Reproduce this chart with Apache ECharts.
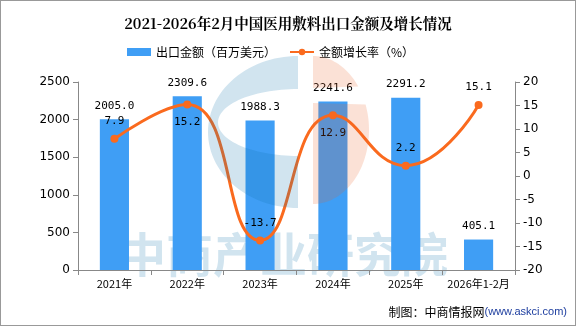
<!DOCTYPE html>
<html><head><meta charset="utf-8">
<script src="https://cdn.jsdelivr.net/npm/echarts@6/dist/echarts.min.js"></script>
<style>html,body{margin:0;padding:0;background:#fff}#c{width:576px;height:326px;box-sizing:border-box;border:1px solid #999}</style>
</head><body><div id="c"></div>
<script>
const categories = ['2021年','2022年','2023年','2024年','2025年','2026年1-2月'];
const exportValues = [2005.0, 2309.6, 1988.3, 2241.6, 2291.2, 405.1];
const growthRates = [7.9, 15.2, -13.7, 12.9, 2.2, 15.1];
const leftTicks = [0, 2500, 500];
const rightTicks = [-20, 20, 5];
const growthLabelBelow = [false, true, false, true, false, false];

// watermark logo outline (decoration only)
function ellipseArc(cx, cy, rx, ry, a0, a1, n) {
  const pts = [];
  for (let i = 0; i <= n; i++) {
    const a = (a0 + (a1 - a0) * i / n) * Math.PI / 180;
    pts.push([cx + rx * Math.cos(a), cy + ry * Math.sin(a)]);
  }
  return pts;
}
function clipY(pts, y0, y1) { return pts.filter(p => p[1] >= y0 && p[1] <= y1); }
const logoG = ellipseArc(297, 131, 90, 76, 270, 90, 60).concat(ellipseArc(297, 121.5, 80, 33.5, 90, 270, 60));
const orangeArc = ellipseArc(312, 129, 56, 74, -90, 90, 80);
const logoO1 = [[312, 87]].concat(clipY(orangeArc, 0, 87));
const logoO2 = [[312, 102]].concat(clipY(orangeArc, 102, 400));

const chart = echarts.init(document.getElementById('c'));
const font = '"Noto Sans CJK SC", sans-serif';
const numFont = '"DejaVu Sans Mono", monospace';
const logoBlue = 'rgba(12,111,170,0.19)';
const logoOrange = 'rgba(234,94,37,0.19)';
chart.setOption({
  animation: false,
  title: {
    text: '2021-2026年2月中国医用敷料出口金额及增长情况',
    left: 'center', top: 10,
    textStyle: {fontSize: 14.5, fontWeight: 'bold', color: '#000', fontFamily: '"Noto Serif CJK SC","Noto Sans CJK SC", serif'}
  },
  legend: {
    top: 40, left: 121, itemGap: 13, itemWidth: 24, itemHeight: 8,
    textStyle: {fontSize: 12, color: '#000', fontFamily: font},
    data: [{name: '出口金额（百万美元）', icon: 'rect'}, {name: '金额增长率（%）'}]
  },
  graphic: [
    {type: 'text', x: 118, y: 230, z: -10, silent: true,
     style: {text: '中商产业研究院', fontSize: 47, fontWeight: 'bold', fill: 'rgba(190,216,232,0.7)', fontFamily: font}},
    {type: 'polygon', z: 100, silent: true, shape: {points: logoG}, style: {fill: logoBlue}},
    {type: 'polygon', z: 100, silent: true, shape: {points: logoO1}, style: {fill: logoOrange}},
    {type: 'polygon', z: 100, silent: true, shape: {points: logoO2}, style: {fill: logoOrange}},
    {type: 'text', right: 8, bottom: 7, z: 10,
     style: {rich: {a: {fontSize: 12, fill: '#000', fontFamily: font}, b: {fontSize: 11, fill: '#2040a0', fontFamily: 'Arial, sans-serif'}},
             text: '{a|制图：中商情报网}{b|(www.askci.com)}'}}
  ],
  grid: {left: 77, right: 60, top: 81, bottom: 55},
  xAxis: {
    type: 'category', data: categories,
    axisLine: {lineStyle: {color: '#888'}},
    axisTick: {show: true, lineStyle: {color: '#888'}},
    axisLabel: {color: '#000', fontSize: 11, fontFamily: font, margin: 8, interval: 0}
  },
  yAxis: [
    {type: 'value', min: leftTicks[0], max: leftTicks[1], interval: leftTicks[2],
     axisLine: {show: true, lineStyle: {color: '#888'}}, axisTick: {show: true, lineStyle: {color: '#888'}},
     splitLine: {show: false}, axisLabel: {color: '#000', fontSize: 12, fontFamily: 'DejaVu Sans, sans-serif', formatter: v => String(v)}},
    {type: 'value', min: rightTicks[0], max: rightTicks[1], interval: rightTicks[2],
     axisLine: {show: true, lineStyle: {color: '#888'}}, axisTick: {show: true, lineStyle: {color: '#888'}},
     splitLine: {show: false}, axisLabel: {color: '#000', fontSize: 12, fontFamily: 'DejaVu Sans, sans-serif', formatter: v => String(v)}}
  ],
  series: [
    {name: '出口金额（百万美元）', type: 'bar', data: exportValues, barWidth: '40%',
     itemStyle: {color: '#3f9ef5'},
     label: {show: true, position: 'top', color: '#000', fontSize: 11, distance: 8,
             fontFamily: numFont, formatter: p => p.value.toFixed(1)}},
    {name: '金额增长率（%）', type: 'line', yAxisIndex: 1, smooth: true,
     data: growthRates.map((v, i) => ({value: v, label: {position: growthLabelBelow[i] ? 'bottom' : 'top'}})),
     symbol: 'circle', symbolSize: 8,
     lineStyle: {color: '#fa6a1e', width: 3}, itemStyle: {color: '#fa6a1e'},
     label: {show: true, position: 'top', color: '#000', fontSize: 11, distance: 8,
             fontFamily: numFont, formatter: p => p.value.toFixed(1)}}
  ]
});
</script></body></html>
